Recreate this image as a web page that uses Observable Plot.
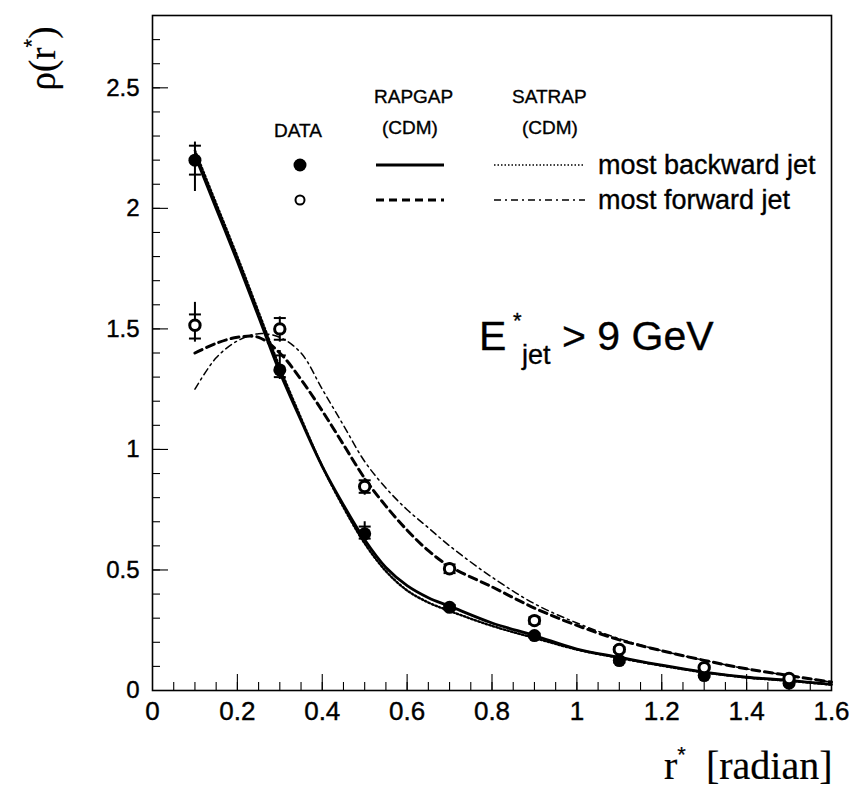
<!DOCTYPE html>
<html><head><meta charset="utf-8">
<script src="https://cdn.jsdelivr.net/npm/d3@7"></script>
<script src="https://cdn.jsdelivr.net/npm/@observablehq/plot@0.6"></script>
<style>
body{margin:0;background:#fff;}
#wrap{position:relative;width:851px;height:796px;font-family:"Liberation Sans",Arial,Helvetica,sans-serif;color:#000;background:#fff;}
.lbl{position:absolute;white-space:nowrap;line-height:1;-webkit-text-stroke:0.35px #000;}
#wrap svg text{stroke:#000;stroke-width:0.4px;}
</style></head><body><div id="wrap"></div>
<script>
// ---- data points (r* bin centres) ----
const rValues = [0.1, 0.3, 0.5, 0.7, 0.9, 1.1, 1.3, 1.5];
// most backward jet (filled)
const backwardRho    = [2.20, 1.33, 0.65, 0.345, 0.228, 0.124, 0.062, 0.030];
const backwardLo     = [2.07, 1.29, 0.62, 0.330, 0.215, 0.112, 0.052, 0.020];
const backwardHi     = [2.275,1.41, 0.70, 0.360, 0.240, 0.135, 0.070, 0.040];
const backwardStatLo = [2.14, 1.30, 0.63, 0.335, 0.220, 0.116, 0.056, 0.024];
const backwardStatHi = [2.26, 1.39, 0.68, 0.355, 0.236, 0.132, 0.067, 0.036];
// most forward jet (open)
const forwardRho     = [1.515,1.50, 0.846,0.505, 0.290, 0.170, 0.095, 0.050];
const forwardLo      = [1.445,1.445,0.810,0.480, 0.270, 0.155, 0.085, 0.040];
const forwardHi      = [1.61, 1.55, 0.880,0.530, 0.310, 0.185, 0.105, 0.060];
const forwardStatLo  = [1.46, 1.455,0.820,0.487, 0.276, 0.160, 0.088, 0.044];
const forwardStatHi  = [1.56, 1.545,0.872,0.523, 0.304, 0.180, 0.102, 0.056];

// ---- model curves ----
const curveR = [0.1,0.15,0.2,0.25,0.3,0.35,0.4,0.45,0.5,0.55,0.6,0.65,0.7,0.8,0.9,1.0,1.1,1.2,1.3,1.4,1.5,1.6];
const rapgapBackward = [2.22,2.00,1.78,1.55,1.32,1.12,0.93,0.77,0.625,0.51,0.435,0.385,0.35,0.28,0.228,0.172,0.138,0.105,0.076,0.055,0.042,0.025];
const satrapBackward = [2.24,2.02,1.80,1.57,1.34,1.13,0.93,0.76,0.61,0.495,0.415,0.365,0.33,0.268,0.218,0.170,0.135,0.103,0.075,0.054,0.040,0.024];
const rapgapForward  = [1.40,1.44,1.465,1.465,1.40,1.29,1.16,1.02,0.88,0.765,0.665,0.58,0.515,0.43,0.342,0.27,0.21,0.165,0.125,0.09,0.062,0.035];
const satrapForward  = [1.25,1.38,1.45,1.48,1.465,1.40,1.25,1.10,0.95,0.84,0.75,0.675,0.60,0.47,0.36,0.28,0.215,0.165,0.125,0.09,0.062,0.035];

// ---- axes ----
const xTickLabels = [0,0.2,0.4,0.6,0.8,1,1.2,1.4,1.6];
const yTickLabels = [0,0.5,1,1.5,2,2.5];
const xMinorTicks = d3.range(1,32).map(i => i*0.05);
const xMajorTicks = [0.2,0.4,0.6,0.8,1,1.2,1.4];
const yMinorTicks = d3.range(1,28).map(i => i*0.1);
const yMajorTicks = [0.5,1,1.5,2,2.5];

const W = 851, H = 796, mL = 152, mR = 20, mT = 15, mB = 106;
const innerW = W - mL - mR, innerH = H - mT - mB;

const points = rValues.map((r,i) => ({r, b: backwardRho[i], bLo: backwardLo[i], bHi: backwardHi[i], bSL: backwardStatLo[i], bSH: backwardStatHi[i],
  f: forwardRho[i], fLo: forwardLo[i], fHi: forwardHi[i], fSL: forwardStatLo[i], fSH: forwardStatHi[i]}));
const curves = curveR.map((r,i) => ({r, rb: rapgapBackward[i], sb: satrapBackward[i], rf: rapgapForward[i], sf: satrapForward[i]}));

const hbar = {draw(ctx, size){ const w = Math.sqrt(size/Math.PI); ctx.moveTo(-w,0); ctx.lineTo(w,0); }};

const plot = Plot.plot({
  width: W, height: H, marginLeft: mL, marginRight: mR, marginTop: mT, marginBottom: mB,
  x: {domain: [0,1.6]}, y: {domain: [0,2.8]},
  style: {fontFamily: "'Liberation Sans', Arial, Helvetica, sans-serif", color: "#000", background: "#fff"},
  marks: [
    Plot.tickX(xMinorTicks, {insetTop: innerH - 8, strokeWidth: 1.1}),
    Plot.tickX(xMajorTicks, {insetTop: innerH - 16, strokeWidth: 1.1}),
    Plot.tickY(yMinorTicks, {insetRight: innerW - 8, strokeWidth: 1.1}),
    Plot.tickY(yMajorTicks, {insetRight: innerW - 16, strokeWidth: 1.1}),
    Plot.axisX({ticks: xTickLabels, tickSize: 0, tickPadding: 11, label: null, fontSize: 26, tickFormat: d => String(d)}),
    Plot.axisY({ticks: yTickLabels, tickSize: 0, tickPadding: 13, label: null, fontSize: 24, tickFormat: d => String(d)}),
    Plot.frame({strokeWidth: 1.6}),
    Plot.line(curves, {x: "r", y: "sf", curve: "catmull-rom", strokeWidth: 1.5, strokeDasharray: "7,4,2,4"}),
    Plot.line(curves, {x: "r", y: "rf", curve: "catmull-rom", strokeWidth: 3, strokeDasharray: "8,5"}),
    Plot.line(curves, {x: "r", y: "sb", curve: "catmull-rom", strokeWidth: 2.4, strokeDasharray: "1.6,2.2"}),
    Plot.line(curves, {x: "r", y: "rb", curve: "catmull-rom", strokeWidth: 2.8}),
    Plot.ruleX(points, {x: "r", y1: "bLo", y2: "bHi", strokeWidth: 2}),
    Plot.ruleX(points, {x: "r", y1: "fLo", y2: "fHi", strokeWidth: 2}),
    Plot.dot(points, {x: "r", y: "bSL", symbol: hbar, r: 6, stroke: "black", strokeWidth: 2}),
    Plot.dot(points, {x: "r", y: "bSH", symbol: hbar, r: 6, stroke: "black", strokeWidth: 2}),
    Plot.dot(points, {x: "r", y: "fSL", symbol: hbar, r: 6, stroke: "black", strokeWidth: 2}),
    Plot.dot(points, {x: "r", y: "fSH", symbol: hbar, r: 6, stroke: "black", strokeWidth: 2}),
    Plot.dot(points, {x: "r", y: "b", r: 6.5, fill: "black", stroke: "none"}),
    Plot.dot(points, {x: "r", y: "f", r: 5.2, fill: "white", stroke: "black", strokeWidth: 3})
  ]
});
const wrap = document.getElementById("wrap");
wrap.appendChild(plot);

function lbl(html, left, top, size, extra){
  const d = document.createElement("div");
  d.className = "lbl"; d.innerHTML = html;
  d.style.left = left + "px"; d.style.top = top + "px"; d.style.fontSize = size + "px";
  if (extra) Object.assign(d.style, extra);
  wrap.appendChild(d); return d;
}
// legend text
lbl("DATA", 274, 121, 19);
lbl("RAPGAP", 374, 87, 19);
lbl("(CDM)", 382, 118, 19);
lbl("SATRAP", 512, 87, 19);
lbl("(CDM)", 522, 118, 19);
lbl("most backward jet", 598, 152, 27);
lbl("most forward jet", 598, 187, 27);
// legend samples
const ns = "http://www.w3.org/2000/svg";
const leg = document.createElementNS(ns, "svg");
leg.setAttribute("width", W); leg.setAttribute("height", H);
leg.style.position = "absolute"; leg.style.left = "0"; leg.style.top = "0"; leg.style.pointerEvents = "none";
leg.innerHTML = `
 <circle cx="300" cy="165" r="6.5" fill="black"/>
 <circle cx="300" cy="200" r="4.5" fill="white" stroke="black" stroke-width="2"/>
 <line x1="376" x2="444" y1="165" y2="165" stroke="black" stroke-width="3"/>
 <line x1="376" x2="444" y1="200" y2="200" stroke="black" stroke-width="3" stroke-dasharray="8,5"/>
 <line x1="494" x2="585" y1="165" y2="165" stroke="black" stroke-width="1.6" stroke-dasharray="1.5,2"/>
 <line x1="494" x2="585" y1="200" y2="200" stroke="black" stroke-width="1.5" stroke-dasharray="7,4,2,4"/>`;
wrap.appendChild(leg);

// annotation E*_jet > 9 GeV
lbl('E', 479, 316, 41);
lbl('*', 513, 310, 22);
lbl('jet', 522, 342, 27);
lbl('&gt; 9 GeV', 562, 316, 41);

// y axis label rho(r*)
lbl('&rho;(r<span style="position:relative;top:-16px;font-size:22px;font-family:\'Liberation Sans\',Arial">*</span>)', 10, 40, 37,
  {fontFamily: "'Liberation Serif','DejaVu Serif',serif", transform: "rotate(-90deg)", transformOrigin: "center", webkitTextStroke: "0.2px #000"});
// x axis label
lbl('r<span style="position:relative;top:-17px;font-size:22px;font-family:\'Liberation Sans\',Arial">*</span>&nbsp;&nbsp;[radian]', 664, 746, 40,
  {fontFamily: "'Liberation Serif','DejaVu Serif',serif", webkitTextStroke: "0.2px #000"});
</script></body></html>
